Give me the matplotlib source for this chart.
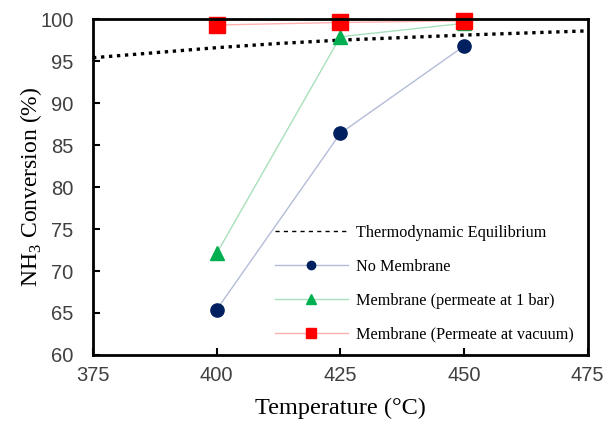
import matplotlib.pyplot as plt

plt.rcParams["mathtext.fontset"] = "custom"
plt.rcParams["mathtext.rm"] = "Liberation Serif"

temp = [400, 425, 450]
no_membrane = [65.4, 86.4, 96.8]
membrane_1bar = [72.1, 97.9, 99.5]
membrane_vacuum = [99.3, 99.6, 99.8]

eq_temp = [375, 387.5, 400, 412.5, 425, 437.5, 450, 462.5, 475]
eq_conv = [95.4, 96.0, 96.6, 97.1, 97.5, 97.8, 98.1, 98.35, 98.6]

fig = plt.figure(figsize=(6.1, 4.23), dpi=100)
ax = fig.add_axes([0.1525, 0.1608, 0.811, 0.794])

ax.plot(eq_temp, eq_conv, color="black", linestyle=(0, (1, 1.4)), linewidth=2.4,
        label="Thermodynamic Equilibrium", clip_on=False)
ax.plot(temp, no_membrane, color="#b4bcd8", linewidth=1, marker="o", markersize=9.5,
        markerfacecolor="#002060", markeredgecolor="#002060",
        label="No Membrane", clip_on=False)
ax.plot(temp, membrane_1bar, color="#a8e0bc", linewidth=1, marker="^", markersize=10.5,
        markerfacecolor="#00b050", markeredgecolor="#00b050",
        label="Membrane (permeate at 1 bar)", clip_on=False)
ax.plot(temp, membrane_vacuum, color="#ffb0b0", linewidth=1, marker="s", markersize=11,
        markerfacecolor="#ff0000", markeredgecolor="#ff0000",
        label="Membrane (Permeate at vacuum)", clip_on=False)

ax.set_xlim(375, 475)
ax.set_ylim(60, 100)
ax.set_xticks([375, 400, 425, 450, 475])
ax.set_yticks(range(60, 101, 5))
ax.tick_params(direction="in", length=5, width=1.5, labelsize=14.5)
ax.tick_params(axis="x", pad=8)
ax.tick_params(axis="y", pad=14)
for lbl in ax.get_xticklabels() + ax.get_yticklabels():
    lbl.set_fontfamily("Liberation Sans")
    lbl.set_color("#404040")
for s in ax.spines.values():
    s.set_linewidth(2)

ax.set_xlabel("Temperature (°C)", family="Liberation Serif", fontsize=17.5, labelpad=9)
ax.set_ylabel("NH$_3$ Conversion (%)", family="Liberation Serif", fontsize=17, labelpad=-3)

leg = ax.legend(loc="upper left", bbox_to_anchor=(0.354, 0.406), frameon=False,
                prop={"family": "Liberation Serif", "size": 11.7}, handlelength=4.5,
                handletextpad=0.5, labelspacing=1.1, borderaxespad=0)
leg.get_lines()[1].set_markersize(6)
leg.get_lines()[2].set_markersize(7)
leg.get_lines()[3].set_markersize(7)
leg.get_lines()[0].set_linewidth(1)
leg.get_lines()[0].set_linestyle((0, (3, 3)))

fig.savefig("out.png", dpi=100)
